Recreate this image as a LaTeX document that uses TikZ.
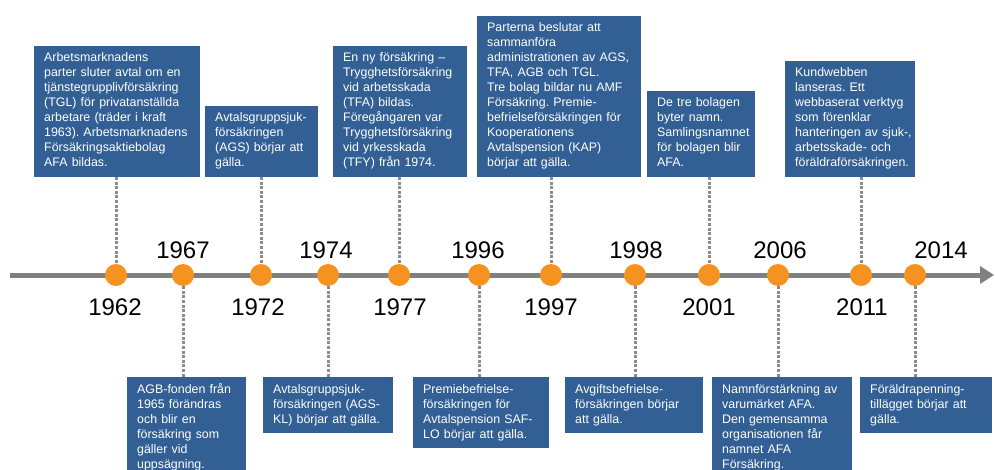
\documentclass[tikz,border=0pt]{standalone}
\usepackage{fontspec}
\setmainfont{Liberation Sans}
\frenchspacing
\usetikzlibrary{arrows.meta}
\definecolor{boxblue}{RGB}{50,95,148}
\definecolor{dotorange}{RGB}{245,146,32}
\definecolor{linegray}{RGB}{128,128,128}
\definecolor{conngray}{RGB}{140,140,140}
\tikzset{
  event/.style={fill=boxblue, text=white, align=left, inner xsep=3pt, inner ysep=5.5pt,
    font=\fontsize{12.4}{15}\selectfont,
    execute at begin node={\leftskip=7pt\strut}, execute at end node={\strut}},
  yeardot/.style={circle, fill=dotorange, minimum size=22pt, inner sep=0pt},
  year/.style={font=\fontsize{24}{28}\selectfont},
  conn/.style={draw=conngray, line width=3pt, dash pattern=on 3pt off 1.6pt},
}
\begin{document}
\begin{tikzpicture}[x=1pt,y=-1pt]
\useasboundingbox (0,0) rectangle (995,470);
\clip (0,0) rectangle (995,470);
% timeline
\coordinate (tl start) at (10,275);
\coordinate (tl end) at (994,275);
\draw[linegray, line width=5pt, -{Triangle[length=14pt,width=17pt]}] (tl start) -- (tl end);
% dots
\node[yeardot] (d62) at (116,275) {};
\node[yeardot] (d67) at (183,275) {};
\node[yeardot] (d72) at (261,275) {};
\node[yeardot] (d74) at (328,275) {};
\node[yeardot] (d77) at (399,275) {};
\node[yeardot] (d96) at (479,275) {};
\node[yeardot] (d97) at (551,275) {};
\node[yeardot] (d98) at (635,275) {};
\node[yeardot] (d01) at (709,275) {};
\node[yeardot] (d06) at (778,275) {};
\node[yeardot] (d11) at (861,275) {};
\node[yeardot] (d14) at (915,275) {};
% years
\node[year] (y62) at (115,307) {1962};
\node[year] (y67) at (183,250) {1967};
\node[year] (y72) at (258,307) {1972};
\node[year] (y74) at (326,250) {1974};
\node[year] (y77) at (400,307) {1977};
\node[year] (y96) at (478,250) {1996};
\node[year] (y97) at (551,307) {1997};
\node[year] (y98) at (636,250) {1998};
\node[year] (y01) at (709,307) {2001};
\node[year] (y06) at (780,250) {2006};
\node[year] (y11) at (862,307) {2011};
\node[year] (y14) at (941,250) {2014};
% events above
\node[event, text width=160pt, anchor=south west] (b62) at (34,177)
  {Arbetsmarknadens\\ parter sluter avtal om en\\ tjänstegrupplivförsäkring\\ (TGL) för privatanställda\\ arbetare (träder i kraft\\ 1963). Arbetsmarknadens\\ Försäkringsaktiebolag\\ AFA bildas.};
\node[event, text width=107pt, anchor=south west] (b72) at (205,177)
  {Avtalsgruppsjuk-\\ försäkringen\\ (AGS) börjar att\\ gälla.};
\node[event, text width=128pt, anchor=south west] (b77) at (333,177)
  {En ny försäkring –\\ Trygghetsförsäkring\\ vid arbetsskada\\ (TFA) bildas.\\ Föregångaren var\\ Trygghetsförsäkring\\ vid yrkesskada\\ (TFY) från 1974.};
\node[event, text width=158pt, anchor=south west] (b97) at (477,177)
  {Parterna beslutar att\\ sammanföra\\ administrationen av AGS,\\ TFA, AGB och TGL.\\ Tre bolag bildar nu AMF\\ Försäkring. Premie-\\ befrielseförsäkringen för\\ Kooperationens\\ Avtalspension (KAP)\\ börjar att gälla.};
\node[event, text width=102pt, anchor=south west] (b01) at (647,177)
  {De tre bolagen\\ byter namn.\\ Samlingsnamnet\\ för bolagen blir\\ AFA.};
\node[event, text width=124pt, anchor=south west] (b11) at (785,177)
  {Kundwebben\\ lanseras. Ett\\ webbaserat verktyg\\ som förenklar\\ hanteringen av sjuk-,\\ arbetsskade- och\\ föräldraförsäkringen.};
% events below
\node[event, text width=113pt, anchor=north west] (b67) at (127,377)
  {AGB-fonden från\\ 1965 förändras\\ och blir en\\ försäkring som\\ gäller vid\\ uppsägning.};
\node[event, text width=124pt, anchor=north west] (b74) at (263,377)
  {Avtalsgruppsjuk-\\ försäkringen (AGS-\\ KL) börjar att gälla.};
\node[event, text width=130pt, anchor=north west] (b96) at (413,377)
  {Premiebefrielse-\\ försäkringen för\\ Avtalspension SAF-\\ LO börjar att gälla.};
\node[event, text width=132pt, anchor=north west] (b98) at (565,377)
  {Avgiftsbefrielse-\\ försäkringen börjar\\ att gälla.};
\node[event, text width=134pt, anchor=north west] (b06) at (712,377)
  {Namnförstärkning av\\ varumärket AFA.\\ Den gemensamma\\ organisationen får\\ namnet AFA\\ Försäkring.};
\node[event, text width=126pt, anchor=north west] (b14) at (860,377)
  {Föräldrapenning-\\ tillägget börjar att\\ gälla.};
% dotted links
\path[conn]
  (d62 |- b62.south) edge (d62)
  (d72 |- b72.south) edge (d72)
  (d77 |- b77.south) edge (d77)
  (d97 |- b97.south) edge (d97)
  (d01 |- b01.south) edge (d01)
  (d11 |- b11.south) edge (d11)
  (d67) edge (d67 |- b67.north)
  (d74) edge (d74 |- b74.north)
  (d96) edge (d96 |- b96.north)
  (d98) edge (d98 |- b98.north)
  (d06) edge (d06 |- b06.north)
  (d14) edge (d14 |- b14.north)
;
\end{tikzpicture}
\end{document}
